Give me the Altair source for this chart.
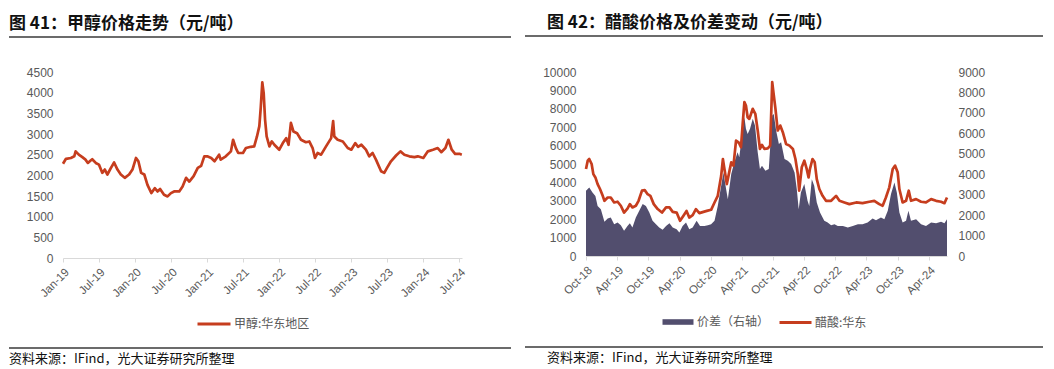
import altair as alt
import pandas as pd

CJK = "Noto Sans CJK SC"
LAT = "Liberation Sans"
RED = "#C63D1E"
PURPLE = "#524E6E"
GREY = "#595959"
AXC = "#D9D9D9"

TITLE_L = "图 41：甲醇价格走势（元/吨）"
TITLE_R = "图 42：醋酸价格及价差变动（元/吨）"
SOURCE = "资料来源：IFind，光大证券研究所整理"
me_name = "甲醇:华东地区"
sp_name = "价差（右轴）"
ac_name = "醋酸:华东"

# ---- Methanol (East China), yuan/ton ----
me_dates = [
    "2019-01-01", "2019-01-16", "2019-02-10", "2019-02-27", "2019-03-06", "2019-03-22",
    "2019-04-09", "2019-04-25", "2019-05-07", "2019-05-21", "2019-05-29", "2019-06-16",
    "2019-07-02", "2019-07-19", "2019-08-01", "2019-08-14", "2019-09-01", "2019-09-17",
    "2019-10-04", "2019-10-21", "2019-11-10", "2019-12-02", "2019-12-19", "2020-01-06",
    "2020-01-18", "2020-02-01", "2020-02-17", "2020-03-04", "2020-03-24", "2020-04-10",
    "2020-04-24", "2020-05-07", "2020-05-27", "2020-06-14", "2020-07-01", "2020-07-17",
    "2020-08-12", "2020-08-29", "2020-09-16", "2020-10-02", "2020-10-24", "2020-11-14",
    "2020-12-01", "2020-12-17", "2021-01-01", "2021-01-21", "2021-02-07", "2021-03-02",
    "2021-03-10", "2021-04-05", "2021-05-01", "2021-05-12", "2021-05-26", "2021-06-07",
    "2021-07-01", "2021-07-16", "2021-08-10", "2021-08-27", "2021-09-10", "2021-09-22",
    "2021-09-29", "2021-10-07", "2021-10-14", "2021-10-21", "2021-10-29", "2021-11-12",
    "2021-11-24", "2021-12-07", "2022-01-01", "2022-01-19", "2022-02-05", "2022-02-17",
    "2022-03-01", "2022-03-14", "2022-04-01", "2022-04-21", "2022-05-16", "2022-06-02",
    "2022-06-19", "2022-07-01", "2022-07-14", "2022-08-01", "2022-08-26", "2022-09-21",
    "2022-10-01", "2022-10-07", "2022-10-24", "2022-11-19", "2022-12-14", "2023-01-01",
    "2023-01-21", "2023-02-04", "2023-02-21", "2023-03-16", "2023-04-02", "2023-04-19",
    "2023-05-06", "2023-06-01", "2023-06-17", "2023-07-01", "2023-07-21", "2023-08-16",
    "2023-09-07", "2023-09-27", "2023-10-22", "2023-11-17", "2023-12-04", "2024-01-01",
    "2024-01-24", "2024-02-19", "2024-03-14", "2024-04-01", "2024-04-22", "2024-05-07",
    "2024-05-24", "2024-06-10", "2024-07-02", "2024-07-14",
]
me_values = [
    2280, 2400, 2420, 2460, 2580, 2500,
    2440, 2380, 2300, 2360, 2390, 2300,
    2260, 2060, 2140, 2020, 2180, 2310,
    2140, 2020, 1940, 2020, 2140, 2420,
    2340, 2060, 2020, 1770, 1570, 1690,
    1610, 1670, 1530, 1490, 1570, 1610,
    1610, 1730, 1940, 1850, 1980, 2180,
    2230, 2460, 2460, 2420, 2340, 2500,
    2380, 2460, 2580, 2860, 2660, 2540,
    2540, 2660, 2690, 2700, 2940, 3190,
    3630, 4250, 3990, 3350, 2940, 2700,
    2820, 2740, 2620, 2780, 2900, 2740,
    3270, 3060, 3020, 2860, 2800, 2820,
    2660, 2420, 2540, 2500, 2700, 2900,
    3310, 2940, 2860, 2820, 2660, 2620,
    2780, 2690, 2740, 2620, 2460, 2540,
    2380, 2100, 2060, 2180, 2340, 2480,
    2580, 2500, 2460, 2440, 2460, 2420,
    2580, 2620, 2660, 2560, 2660, 2860,
    2620, 2520, 2520, 2500,
]

# ---- Acetic acid (East China), left axis ----
ac_dates = [
    "2018-10-01", "2018-10-11", "2018-10-20", "2018-11-03", "2018-11-13", "2018-11-25",
    "2018-12-08", "2018-12-22", "2019-01-07", "2019-01-17", "2019-02-05", "2019-02-23",
    "2019-03-15", "2019-04-04", "2019-04-23", "2019-05-12", "2019-06-01", "2019-06-15",
    "2019-06-30", "2019-07-20", "2019-08-05", "2019-08-25", "2019-09-10", "2019-09-27",
    "2019-10-13", "2019-11-02", "2019-11-25", "2019-12-20", "2020-01-13", "2020-02-02",
    "2020-02-21", "2020-03-15", "2020-04-04", "2020-04-23", "2020-05-12", "2020-05-28",
    "2020-06-17", "2020-07-06", "2020-07-26", "2020-08-19", "2020-09-08", "2020-10-03",
    "2020-10-23", "2020-11-11", "2020-12-01", "2020-12-11", "2020-12-20", "2021-01-03",
    "2021-01-19", "2021-01-29", "2021-02-11", "2021-02-26", "2021-03-13", "2021-03-27",
    "2021-04-06", "2021-04-16", "2021-04-25", "2021-05-05", "2021-05-15", "2021-06-04",
    "2021-06-19", "2021-07-03", "2021-07-16", "2021-07-28", "2021-08-11", "2021-08-31",
    "2021-09-14", "2021-09-26", "2021-10-03", "2021-10-15", "2021-10-28", "2021-11-12",
    "2021-11-27", "2021-12-16", "2022-01-05", "2022-01-25", "2022-02-09", "2022-02-23",
    "2022-03-03", "2022-03-18", "2022-04-02", "2022-04-16", "2022-04-27", "2022-05-05",
    "2022-05-20", "2022-06-02", "2022-06-14", "2022-06-29", "2022-07-18", "2022-08-07",
    "2022-09-06", "2022-10-05", "2022-10-25", "2022-11-23", "2022-12-22", "2023-01-31",
    "2023-03-09", "2023-04-18", "2023-05-17", "2023-06-15", "2023-07-05", "2023-07-24",
    "2023-08-13", "2023-09-02", "2023-09-16", "2023-10-01", "2023-10-11", "2023-10-30",
    "2023-11-19", "2023-12-05", "2023-12-18", "2024-01-17", "2024-02-15", "2024-03-15",
    "2024-04-14", "2024-05-13", "2024-06-11", "2024-07-01", "2024-07-16",
]
ac_values = [
    4730, 5180, 5270, 5000, 4450, 4270,
    3910, 3640, 3270, 3000, 3180, 3180,
    2910, 2950, 2730, 2360, 2580, 2820,
    2640, 2730, 3000, 3550, 3580, 3360,
    3270, 2820, 2550, 2360, 2640, 2640,
    2400, 2360, 1910, 2180, 2450, 2090,
    2220, 2550, 2330, 2400, 2450, 2510,
    2910, 3270, 4360, 5270, 4730, 3910,
    4640, 5090, 4910, 6270, 6180, 5910,
    7180, 8360, 8180, 7540, 7450, 8000,
    7730, 6820, 5820, 6040, 5820, 5850,
    6000, 9450, 8910, 8000, 6820, 7090,
    6730, 6090, 6000, 5820, 5270, 4450,
    3550, 4820, 5180, 4730, 4270, 4730,
    5270, 5090, 4180, 3640, 3270, 3000,
    3000, 3270, 3000, 2910, 2820, 2910,
    2870, 2950, 3000, 2820, 2730, 3180,
    3730, 4730, 4910, 4550, 3640, 2910,
    3000, 3550, 3000, 3090, 2950, 2910,
    3090, 3000, 2950, 2870, 3180,
]

# ---- Spread, right axis ----
sp_dates = [
    "2018-10-01", "2018-10-20", "2018-11-08", "2018-11-25", "2018-12-08", "2018-12-27",
    "2019-01-17", "2019-02-05", "2019-02-23", "2019-03-15", "2019-04-04", "2019-04-23",
    "2019-05-12", "2019-06-01", "2019-06-15", "2019-06-30", "2019-07-20", "2019-08-09",
    "2019-08-29", "2019-09-17", "2019-10-07", "2019-10-26", "2019-11-15", "2019-12-04",
    "2019-12-24", "2020-01-13", "2020-02-02", "2020-02-21", "2020-03-15", "2020-03-31",
    "2020-04-19", "2020-05-09", "2020-05-28", "2020-06-17", "2020-07-10", "2020-07-30",
    "2020-08-25", "2020-09-14", "2020-10-03", "2020-10-23", "2020-11-11", "2020-12-01",
    "2020-12-14", "2020-12-30", "2021-01-09", "2021-01-29", "2021-02-16", "2021-03-07",
    "2021-03-17", "2021-04-02", "2021-04-16", "2021-04-25", "2021-05-05", "2021-05-19",
    "2021-06-04", "2021-06-17", "2021-07-03", "2021-07-16", "2021-07-28", "2021-08-17",
    "2021-09-06", "2021-09-26", "2021-10-05", "2021-10-19", "2021-11-04", "2021-11-17",
    "2021-12-07", "2021-12-26", "2022-01-15", "2022-02-04", "2022-02-17", "2022-02-28",
    "2022-03-13", "2022-04-02", "2022-04-21", "2022-05-01", "2022-05-16", "2022-05-30",
    "2022-06-14", "2022-07-03", "2022-07-28", "2022-08-17", "2022-09-06", "2022-09-26",
    "2022-10-15", "2022-11-14", "2022-12-13", "2023-01-11", "2023-02-10", "2023-03-09",
    "2023-04-08", "2023-05-07", "2023-05-27", "2023-06-25", "2023-07-15", "2023-08-04",
    "2023-08-23", "2023-09-12", "2023-09-26", "2023-10-11", "2023-10-30", "2023-11-19",
    "2023-12-03", "2023-12-18", "2024-01-17", "2024-02-15", "2024-03-15", "2024-04-14",
    "2024-05-13", "2024-06-11", "2024-07-01", "2024-07-16",
]
sp_values = [
    3190, 3350, 3110, 2940, 2450, 2290,
    1670, 1830, 1880, 1550, 1640, 1500,
    1230, 1470, 1600, 1390, 1880, 2210,
    2540, 2450, 2130, 1720, 1550, 1390,
    1280, 1470, 1600, 1390, 1310, 1150,
    1470, 1640, 1310, 1390, 1720, 1470,
    1470, 1500, 1550, 1720, 2450, 3440,
    4090, 3270, 2780, 4010, 4580, 5070,
    4830, 5890, 6790, 6220, 5970, 6220,
    6710, 6380, 5070, 4250, 4420, 4170,
    4250, 6870, 6950, 6130, 5480, 5560,
    4740, 4660, 4500, 4090, 3270, 2290,
    3110, 3520, 2700, 2450, 3760, 3440,
    2620, 2130, 1720, 1640, 1500, 1550,
    1470, 1470, 1390, 1470, 1550, 1550,
    1640, 1830, 1750, 1880, 1800, 2210,
    3030, 3600, 3110, 2130, 1640, 1720,
    2210, 1720, 1800, 1550, 1470, 1640,
    1600, 1670, 1600, 1800,
]

left_ticks = [(2019, 1), (2019, 7), (2020, 1), (2020, 7), (2021, 1), (2021, 7),
              (2022, 1), (2022, 7), (2023, 1), (2023, 7), (2024, 1), (2024, 7)]
right_ticks = [(2018, 10), (2019, 4), (2019, 10), (2020, 4), (2020, 10), (2021, 4),
               (2021, 10), (2022, 4), (2022, 10), (2023, 4), (2023, 10), (2024, 4)]
left_domain = [(2019, 1, 1), (2024, 7, 15)]
right_domain = [(2018, 10, 1), (2024, 7, 16)]
left_y = list(range(0, 4501, 500))
right_y_left = list(range(0, 10001, 1000))
right_y_right = list(range(0, 9001, 1000))


def dt(y, m, d=1):
    return alt.DateTime(year=y, month=m, date=d, utc=True)


def x_axis(ticks):
    return alt.Axis(
        values=[dt(y, m) for y, m in ticks], format="%b-%y", formatType="time",
        labelAngle=-45, labelAlign="right", labelBaseline="top", labelPadding=4,
        labelFont=LAT, labelFontSize=11.5, labelColor=GREY, labelOverlap=False,
        labelFlush=False, grid=False, domainColor=AXC, domainWidth=1,
        tickColor=AXC, tickSize=4, title=None,
    )


def y_axis(vals, orient="left", pad=10):
    return alt.Axis(
        values=vals, format="d", orient=orient, domain=False, ticks=False,
        grid=False, labelPadding=pad, labelFont=LAT, labelFontSize=12,
        labelColor=GREY, title=None,
    )


one = pd.DataFrame({"k": [0]})


def deco(title, rx0, rx1, tx, ty, rtop, rbot, sy):
    t = alt.Chart(one).mark_text(
        text=title, align="left", baseline="alphabetic", font=CJK,
        fontSize=17, fontWeight="bold", color="#111111",
    ).encode(x=alt.value(tx), y=alt.value(ty))
    r1 = alt.Chart(one).mark_rule(color="#3A3A3A", strokeWidth=1.3).encode(
        x=alt.value(rx0), x2=alt.value(rx1), y=alt.value(rtop))
    r2 = alt.Chart(one).mark_rule(color="#3A3A3A", strokeWidth=1.3).encode(
        x=alt.value(rx0), x2=alt.value(rx1), y=alt.value(rbot))
    s = alt.Chart(one).mark_text(
        text=SOURCE, align="left", baseline="alphabetic", font=CJK,
        fontSize=13, color="#111111",
    ).encode(x=alt.value(tx), y=alt.value(sy))
    return [t, r1, r2, s]


def legend(x, y, stype, size):
    return alt.Legend(
        orient="none", legendX=x, legendY=y, title=None, symbolType=stype,
        symbolSize=size, symbolStrokeWidth=3, labelFont=CJK, labelFontSize=12,
        labelColor=GREY, labelOffset=2, padding=0,
    )


# ---------------- left panel ----------------
me_df = pd.DataFrame({"date": me_dates, "value": me_values, "s": me_name})
xl = alt.X("date:T", scale=alt.Scale(type="utc", domain=[dt(*d) for d in left_domain]),
           axis=x_axis(left_ticks))
me_line = alt.Chart(me_df).mark_line(strokeWidth=2.7, strokeJoin="round").encode(
    x=xl,
    y=alt.Y("value:Q", scale=alt.Scale(domain=[0, 4500]), axis=y_axis(left_y)),
    stroke=alt.Stroke("s:N", scale=alt.Scale(domain=[me_name], range=[RED]),
                      legend=legend(133, 234, "stroke", 1089)),
)
left = alt.layer(me_line, *deco(TITLE_L, -54, 448, -54, -43, -35, 276, 291)).properties(
    width=399, height=186)

# ---------------- right panel ----------------
sp_df = pd.DataFrame({"date": sp_dates, "value": sp_values, "s": sp_name})
ac_df = pd.DataFrame({"date": ac_dates, "value": ac_values, "s": ac_name})
xr = alt.X("date:T", scale=alt.Scale(type="utc", domain=[dt(*d) for d in right_domain]),
           axis=x_axis(right_ticks))
sp_area = alt.Chart(sp_df).mark_area().encode(
    x=xr,
    y=alt.Y("value:Q", scale=alt.Scale(domain=[0, 9000]),
            axis=y_axis(right_y_right, orient="right", pad=11)),
    fill=alt.Fill("s:N", scale=alt.Scale(domain=[sp_name], range=[PURPLE]),
                  legend=legend(75, 233, "M-1,-0.18H1V0.18H-1Z", 961)),
)
ac_line = alt.Chart(ac_df).mark_line(strokeWidth=2.7, strokeJoin="round").encode(
    x=xr,
    y=alt.Y("value:Q", scale=alt.Scale(domain=[0, 10000]), axis=y_axis(right_y_left)),
    stroke=alt.Stroke("s:N", scale=alt.Scale(domain=[ac_name], range=[RED]),
                      legend=legend(192, 233, "stroke", 1024)),
)
right = alt.layer(sp_area, ac_line, *deco(TITLE_R, -61, 457, -39, -44, -36, 275, 290)).resolve_scale(
    y="independent").properties(width=361, height=184)

chart = alt.hconcat(left, right, spacing=12).resolve_scale(
    stroke="independent", fill="independent").properties(
    padding={"top": 6, "left": 0, "right": 0, "bottom": 0}).configure_view(
    strokeWidth=0)

chart.save("out.html", embed_options={"renderer": "svg", "actions": False})
